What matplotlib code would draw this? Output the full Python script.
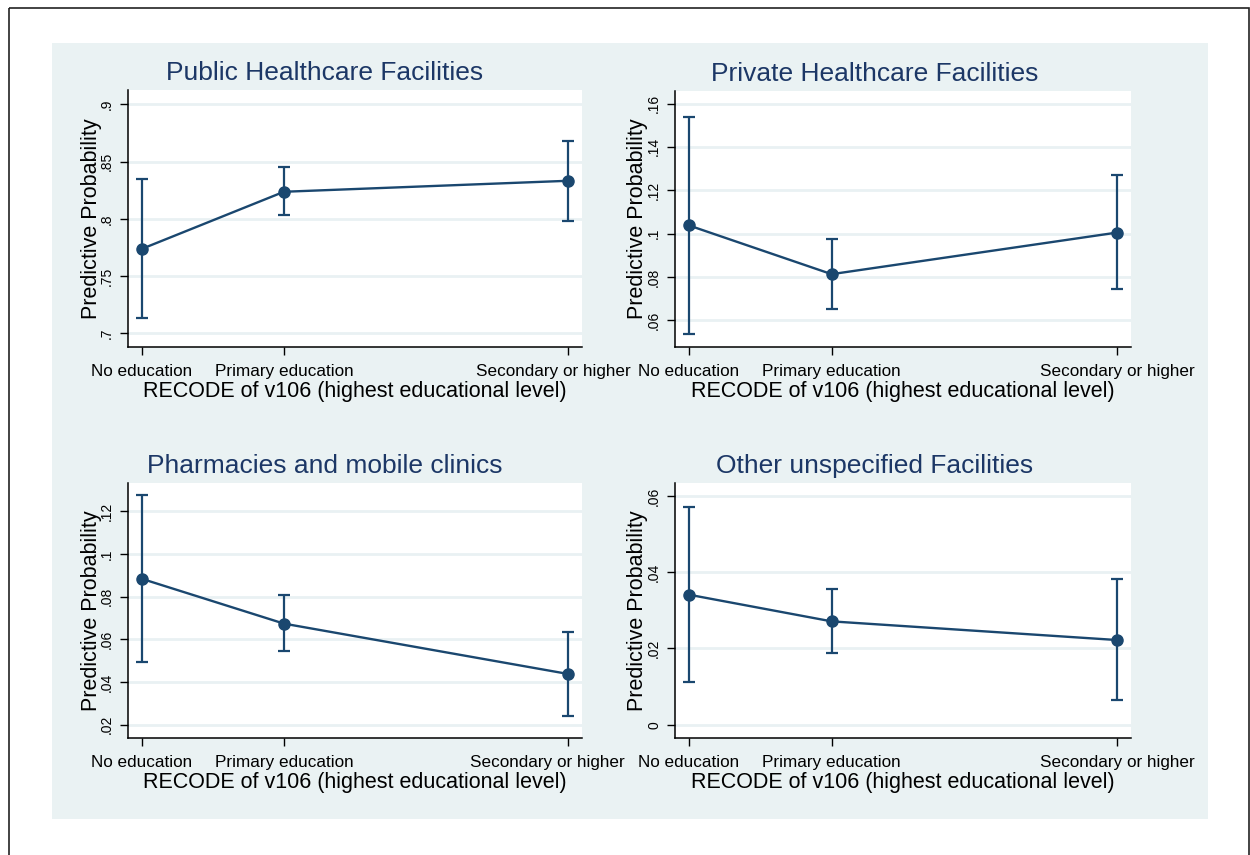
import matplotlib
matplotlib.use("Agg")
import matplotlib.pyplot as plt
from matplotlib.patches import Rectangle
from matplotlib.ticker import FuncFormatter
from matplotlib.transforms import ScaledTranslation

plt.rcParams["font.family"] = ["Liberation Sans", "DejaVu Sans"]

# education levels (coded 0, 1, 3 as in the source)
edu_labels = ["No education", "Primary education", "Secondary or higher"]
edu_x = [0, 1, 3]

titles = ["Public Healthcare Facilities", "Private Healthcare Facilities",
          "Pharmacies and mobile clinics", "Other unspecified Facilities"]

# predicted probabilities with 95% CI
public_est = [0.7737, 0.8236, 0.8332]
public_lo = [0.7133, 0.8030, 0.7980]
public_hi = [0.8350, 0.8450, 0.8680]

private_est = [0.1038, 0.0813, 0.1005]
private_lo = [0.0538, 0.0654, 0.0745]
private_hi = [0.1537, 0.0975, 0.1269]

pharm_est = [0.0884, 0.0674, 0.0438]
pharm_lo = [0.0492, 0.0547, 0.0239]
pharm_hi = [0.1275, 0.0808, 0.0635]

other_est = [0.0341, 0.0271, 0.0222]
other_lo = [0.0113, 0.0188, 0.0064]
other_hi = [0.0570, 0.0357, 0.0383]

yticks = [
    [0.70, 0.75, 0.80, 0.85, 0.90],
    [0.06, 0.08, 0.10, 0.12, 0.14, 0.16],
    [0.02, 0.04, 0.06, 0.08, 0.10, 0.12],
    [0.0, 0.02, 0.04, 0.06],
]
ylims = [(0.688, 0.9125), (0.0477, 0.1658), (0.0138, 0.1333), (-0.0035, 0.0634)]

W, H = 1250, 855
NAVY = "#1a476f"
TITLE_C = "#1c3766"
PANEL_BG = "#eaf2f3"
GRID_C = "#e9f1f3"

fig = plt.figure(figsize=(W / 100, H / 100), dpi=100)
fig.patch.set_facecolor("white")

# background layer: outer frame and light panel
bg = fig.add_axes([0, 0, 1, 1], zorder=0)
bg.set_xlim(0, W)
bg.set_ylim(H, 0)
bg.axis("off")
bg.add_patch(Rectangle((9, 8), 1240, 860, fill=False, edgecolor="#222222", linewidth=1.2))
bg.add_patch(Rectangle((52, 43), 1208 - 52, 819 - 43, facecolor=PANEL_BG, edgecolor="none"))

# axes boxes in pixels: left, right, top, bottom
boxes = [(128, 582, 90, 347), (675, 1131, 91, 347),
         (128, 582, 483, 738), (675, 1131, 483, 738)]
title_cx = [325, 875, 325, 875]
# left panels push the last tick label inward so it stays inside the panel
last_label_shift = [-15, 0, -21, 0]
series = [(public_est, public_lo, public_hi), (private_est, private_lo, private_hi),
          (pharm_est, pharm_lo, pharm_hi), (other_est, other_lo, other_hi)]


def fmt(v, _):
    if abs(v) < 1e-9:
        return "0"
    s = f"{v:.2f}".rstrip("0")
    return s.replace("0.", ".", 1)


for i, (l, r, t, b) in enumerate(boxes):
    ax = fig.add_axes([l / W, 1 - b / H, (r - l) / W, (b - t) / H], zorder=2)
    ax.set_facecolor("white")
    est, lo, hi = series[i]
    yerr = [[e - a for e, a in zip(est, lo)], [c - e for e, c in zip(est, hi)]]
    ax.errorbar(edu_x, est, yerr=yerr, color=NAVY, fmt="none", elinewidth=1.6,
                capsize=4, capthick=1.6, zorder=3)
    ax.plot(edu_x, est, color=NAVY, lw=1.7, marker="o", markersize=8, zorder=4)

    ax.set_xlim(-0.097, 3.097)
    ax.set_ylim(*ylims[i])
    ax.set_xticks(edu_x)
    ax.set_xticklabels(edu_labels, fontsize=12.3)
    ax.set_yticks(yticks[i])
    ax.yaxis.set_major_formatter(FuncFormatter(fmt))
    for lab in ax.get_yticklabels():
        lab.set_rotation(90)
        lab.set_va("center")
        lab.set_fontsize(10)
    ax.grid(axis="y", color=GRID_C, lw=2)
    ax.set_axisbelow(True)
    for side in ("top", "right"):
        ax.spines[side].set_visible(False)
    for side in ("left", "bottom"):
        ax.spines[side].set_linewidth(1.1)
    ax.tick_params(axis="both", direction="out", length=6, width=1.0)
    ax.tick_params(axis="x", pad=6)
    ax.tick_params(axis="y", pad=4)

    if last_label_shift[i]:
        lab = ax.get_xticklabels()[-1]
        lab.set_transform(lab.get_transform() +
                          ScaledTranslation(last_label_shift[i] / 100, 0, fig.dpi_scale_trans))

    wpx, hpx = r - l, b - t
    ax.set_ylabel("Predictive Probability", fontsize=15.5)
    ax.yaxis.set_label_coords(-37 / wpx, 0.5)
    ax.set_xlabel("RECODE of v106 (highest educational level)", fontsize=15.5)
    ax.xaxis.set_label_coords(0.5, -44 / hpx)
    ax.xaxis.label.set_va("center")
    ax.yaxis.label.set_va("center")
    ax.text((title_cx[i] - l) / wpx, (b - (t - 17)) / hpx, titles[i],
            transform=ax.transAxes, ha="center", va="center",
            fontsize=19, color=TITLE_C)

fig.savefig("out.png", dpi=100)
